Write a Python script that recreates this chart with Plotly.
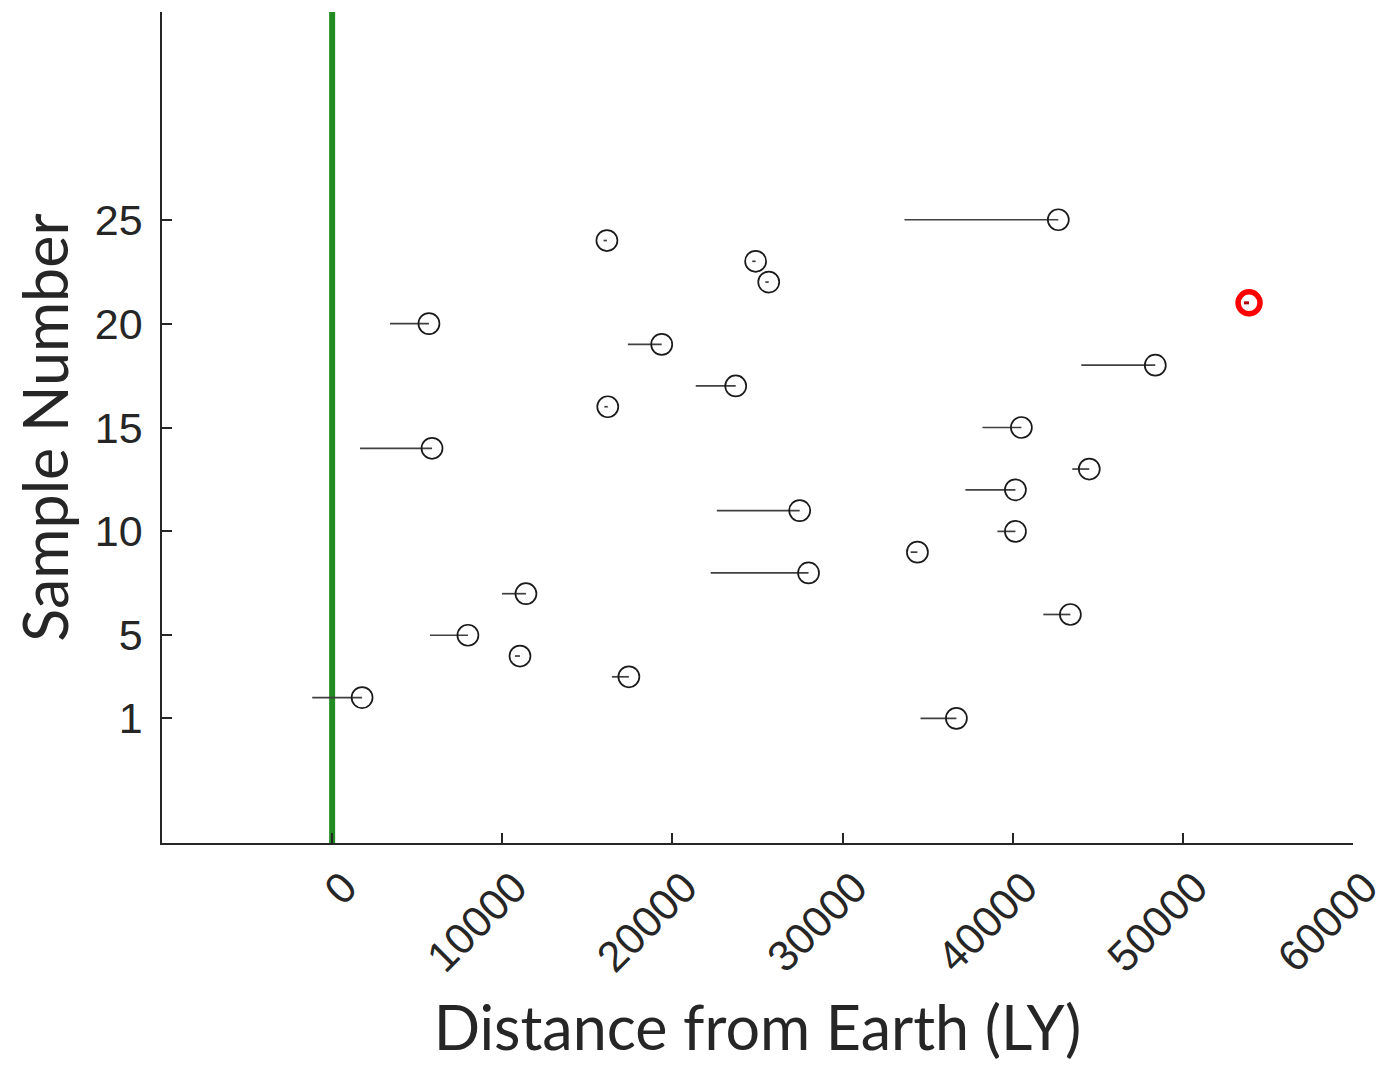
import plotly.graph_objects as go

sample = list(range(1, 26))
distance = [36690, 1760, 17440, 11040, 7980, 43390, 11390, 28000, 34400, 40160,
            27480, 40160, 44500, 5870, 40510, 16200, 23720, 48380, 19370, 5690,
            53890, 25660, 24890, 16150, 42680]
err_minus = [2110, 2930, 1000, 300, 2230, 1590, 1410, 5750, 400, 1060,
             4870, 2940, 1000, 4230, 2290, 200, 2350, 4350, 1990, 2290,
             300, 200, 200, 200, 9040]
outlier = 21

x_ticks = [0, 10000, 20000, 30000, 40000, 50000, 60000]
y_ticks = [1, 5, 10, 15, 20, 25]

norm_x = [d for s, d in zip(sample, distance) if s != outlier]
norm_y = [s for s in sample if s != outlier]
norm_e = [e for s, e in zip(sample, err_minus) if s != outlier]
out_x = [d for s, d in zip(sample, distance) if s == outlier]
out_y = [s for s in sample if s == outlier]
out_e = [e for s, e in zip(sample, err_minus) if s == outlier]

fig = go.Figure()
fig.add_trace(go.Scatter(
    x=norm_x, y=norm_y, mode="markers",
    marker=dict(symbol="circle-open", size=21, color="#1a1a1a", line=dict(width=1.7)),
    error_x=dict(type="data", symmetric=False, array=[0] * len(norm_x), arrayminus=norm_e,
                 width=0, thickness=1.7, color="#404040"),
    showlegend=False,
))
fig.add_trace(go.Scatter(
    x=out_x, y=out_y, mode="markers",
    marker=dict(symbol="circle-open", size=22, color="#ff0000", line=dict(width=5.5)),
    error_x=dict(type="data", symmetric=False, array=[0], arrayminus=out_e,
                 width=0, thickness=3, color="#b00000"),
    showlegend=False,
))

fig.add_shape(type="line", x0=0, x1=0, y0=-5, y1=35, xref="x", yref="y",
              line=dict(color="#228B22", width=6), layer="below")

axis_font = dict(family="Liberation Sans, Arial, sans-serif", size=43, color="#262626")
title_font = dict(family="Lato, Open Sans, sans-serif", size=61, color="#262626")

fig.update_layout(
    width=1384, height=1067,
    margin=dict(l=154, r=39, t=4, b=232),
    plot_bgcolor="white", paper_bgcolor="white",
    xaxis=dict(
        range=[-10000, 60000], tickvals=x_ticks, ticktext=[str(v) for v in x_ticks],
        tickangle=-45, ticks="inside", ticklen=10, tickwidth=1.5, tickcolor="#262626",
        showline=True, linecolor="#262626", linewidth=1.5, showgrid=False, zeroline=False,
        tickfont=axis_font, ticklabelshift=12,
        title=dict(text="Distance from Earth (LY)", font=title_font, standoff=27),
    ),
    yaxis=dict(
        range=[-5, 35], tickvals=y_ticks, ticks="inside", ticklen=10, tickwidth=1.5,
        tickcolor="#262626", showline=True, linecolor="#262626", linewidth=1.5,
        showgrid=False, zeroline=False, tickfont=axis_font, ticklabelstandoff=9,
        automargin=True,
        title=dict(text="Sample Number", font=title_font, standoff=26),
    ),
)

fig.write_html("out.html")
